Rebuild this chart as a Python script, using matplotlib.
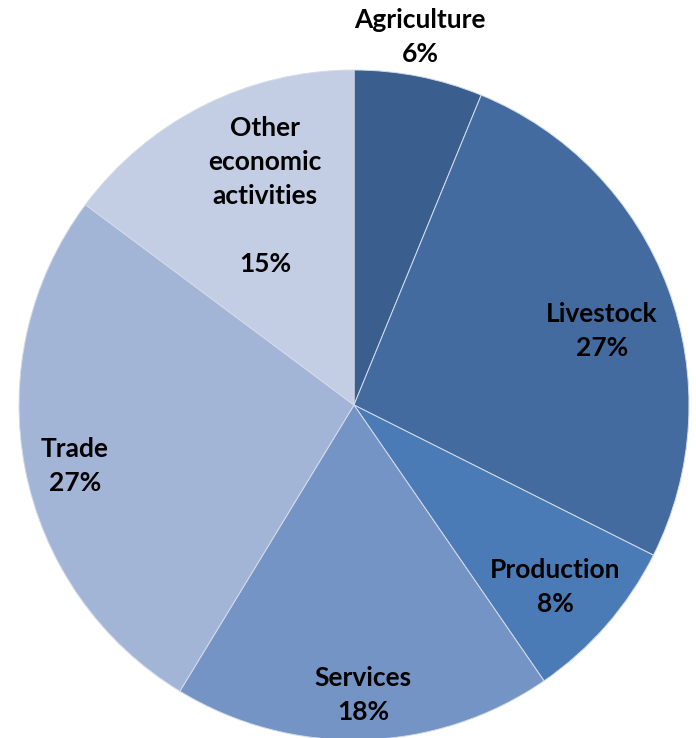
import matplotlib.pyplot as plt

# Datos del gráfico
sectores = ['Agriculture', 'Livestock', 'Production', 'Services', 'Trade',
            'Other\neconomic\nactivities\n']
porcentajes = [6.2, 26.2, 8.0, 18.3, 26.5, 14.8]
etiquetas_pct = ['6%', '27%', '8%', '18%', '27%', '15%']
colores = ['#3A5F8E', '#436BA0', '#4A7BB6', '#7594C6', '#A3B5D6', '#C3CDE3']

# Posiciones de las etiquetas (en píxeles de la imagen)
pos_etiquetas = [(420, 37), (602, 331), (555, 587), (363, 695), (75, 466), (265, 196)]

plt.rcParams['font.family'] = ['Lato', 'DejaVu Sans']

fig = plt.figure(figsize=(6.96, 7.38), dpi=100)
ax = fig.add_axes([0, 0, 1, 1])

ax.pie(porcentajes, colors=colores, startangle=90, counterclock=False,
       center=(354, 738 - 405), radius=335,
       wedgeprops={'edgecolor': '#D3DBEA', 'linewidth': 0.7})

for nombre, pct, (x, y) in zip(sectores, etiquetas_pct, pos_etiquetas):
    ax.text(x, 738 - y, f'{nombre}\n{pct}', ha='center', va='center',
            fontsize=19, fontweight='bold', linespacing=1.5)

ax.set_xlim(0, 696)
ax.set_ylim(0, 738)
ax.set_aspect('equal')
ax.axis('off')

fig.savefig('out.png', dpi=100)
